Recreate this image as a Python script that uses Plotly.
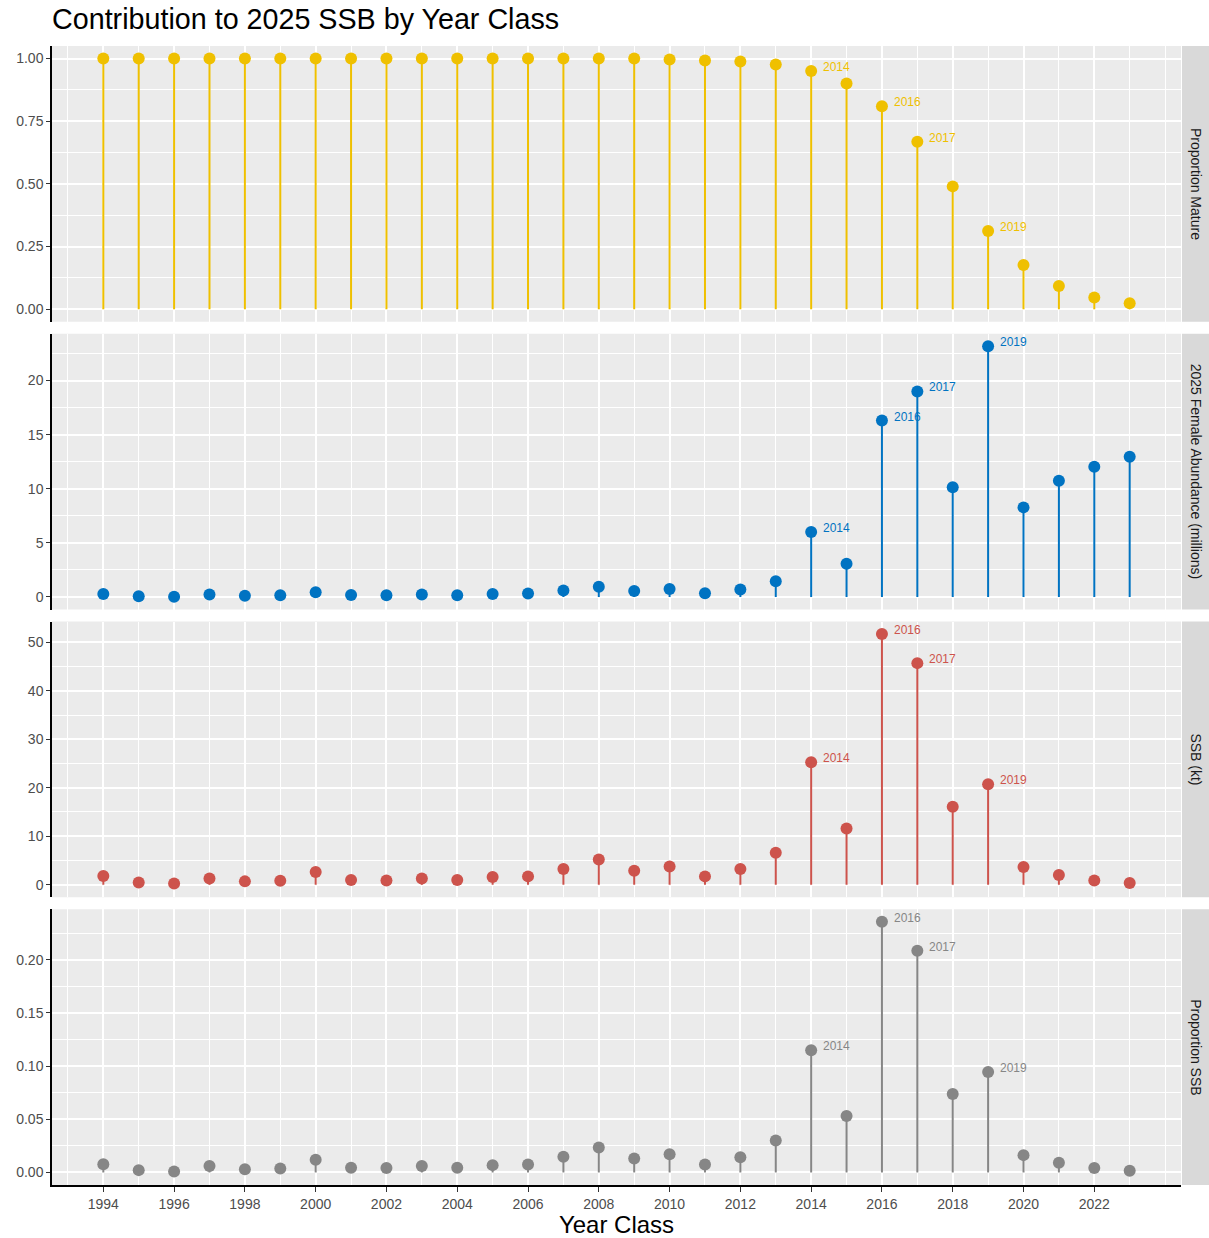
import plotly.graph_objects as go
from plotly.subplots import make_subplots

# ---------------- data ----------------
years = list(range(1994, 2024))

prop_mature = [1.0, 1.0, 1.0, 1.0, 1.0, 1.0, 1.0, 1.0, 1.0, 1.0,
               1.0, 1.0, 1.0, 1.0, 1.0, 1.0, 0.996, 0.992, 0.988, 0.976,
               0.95, 0.90, 0.81, 0.668, 0.49, 0.312, 0.176, 0.093, 0.047, 0.024]

female_abund = [0.28, 0.06, 0.03, 0.22, 0.12, 0.15, 0.43, 0.19, 0.15, 0.22,
                0.15, 0.28, 0.31, 0.59, 0.95, 0.55, 0.74, 0.34, 0.68, 1.45,
                6.0, 3.08, 16.3, 19.0, 10.15, 23.17, 8.28, 10.74, 12.03, 12.95]

ssb = [1.79, 0.48, 0.27, 1.3, 0.69, 0.82, 2.61, 0.96, 0.89, 1.3,
       0.96, 1.58, 1.72, 3.23, 5.22, 2.88, 3.78, 1.72, 3.23, 6.59,
       25.27, 11.6, 51.7, 45.7, 16.1, 20.7, 3.64, 1.99, 0.89, 0.34]

prop_ssb = [0.0078, 0.0022, 0.0009, 0.006, 0.0031, 0.0038, 0.0119, 0.0044, 0.0041, 0.006,
            0.0044, 0.0069, 0.0075, 0.0147, 0.0235, 0.0132, 0.0172, 0.0075, 0.0144, 0.0301,
            0.115, 0.053, 0.2357, 0.2085, 0.0737, 0.0944, 0.0163, 0.0091, 0.0041, 0.0016]

label_years = [2014, 2016, 2017, 2019]
panel_titles = ["Proportion Mature", "2025 Female Abundance (millions)", "SSB (kt)", "Proportion SSB"]
panel_colors = ["#EFC000", "#0073C2", "#CD534C", "#868686"]
y_ticks = [[0, 0.25, 0.5, 0.75, 1.0], [0, 5, 10, 15, 20], [0, 10, 20, 30, 40, 50], [0, 0.05, 0.1, 0.15, 0.2]]
y_minor = [0.125, 2.5, 5, 0.025]
y_fmt = [".2f", "d", "d", ".2f"]
x_ticks = list(range(1994, 2024, 2))

series = [prop_mature, female_abund, ssb, prop_ssb]

# ---------------- figure ----------------
W, H = 1209, 1238
ML, MR, MT, MB = 52, 28, 46, 53
gap_px = 12
plot_h = H - MT - MB
vspace = gap_px / plot_h

fig = make_subplots(rows=4, cols=1, shared_xaxes=True, vertical_spacing=vspace)

FONT = "Liberation Sans, Arial, sans-serif"

for i, vals in enumerate(series):
    r = i + 1
    col = panel_colors[i]
    sx, sy = [], []
    for x, v in zip(years, vals):
        sx += [x, x, None]
        sy += [0, v, None]
    fig.add_trace(go.Scatter(x=sx, y=sy, mode="lines", line=dict(color=col, width=2),
                             hoverinfo="skip", showlegend=False), row=r, col=1)
    fig.add_trace(go.Scatter(x=years, y=vals, mode="markers",
                             marker=dict(color=col, size=12),
                             showlegend=False), row=r, col=1)
    for ly in label_years:
        v = vals[years.index(ly)]
        fig.add_annotation(x=ly, y=v, xref=f"x{'' if r == 1 else r}", yref=f"y{'' if r == 1 else r}",
                           text=str(ly), showarrow=False, xanchor="left", yanchor="middle",
                           xshift=10, yshift=4, font=dict(family=FONT, size=12, color=col))

    vmax = max(vals)
    pad = 0.05 * vmax
    fig.update_yaxes(row=r, col=1, range=[-pad, vmax + pad], automargin=False,
                     tickvals=y_ticks[i], tickformat=y_fmt[i],
                     showgrid=True, gridcolor="white", gridwidth=1.5,
                     minor=dict(dtick=y_minor[i], tick0=0, showgrid=True, gridcolor="white", gridwidth=0.7),
                     zeroline=False, showline=True, linecolor="black", linewidth=1.5,
                     ticks="outside", ticklen=4, tickwidth=1.2, tickcolor="#333333",
                     tickfont=dict(family=FONT, size=14, color="#4D4D4D"))
    fig.update_xaxes(row=r, col=1, range=[1994 - 0.05 * 29, 2023 + 0.05 * 29], automargin=False,
                     tickvals=x_ticks,
                     showgrid=True, gridcolor="white", gridwidth=1.5,
                     minor=dict(dtick=1, tick0=1993, showgrid=True, gridcolor="white", gridwidth=0.7),
                     zeroline=False,
                     showline=(r == 4), linecolor="black", linewidth=1.5,
                     ticks="outside" if r == 4 else "", ticklen=5, tickwidth=1.2, tickcolor="#333333",
                     tickfont=dict(family=FONT, size=14, color="#4D4D4D"))

    # strip
    dom = fig.layout[f"yaxis{'' if r == 1 else r}"].domain
    plot_w = W - ML - MR
    fig.add_shape(type="rect", xref="paper", yref="paper",
                  x0=1 + 1 / plot_w, x1=1 + (MR + 1) / plot_w, y0=dom[0], y1=dom[1],
                  fillcolor="#D9D9D9", line=dict(width=0), layer="below")
    fig.add_annotation(xref="paper", yref="paper", x=1 + (MR / 2 + 1) / plot_w, y=(dom[0] + dom[1]) / 2,
                       text=panel_titles[i], textangle=90, showarrow=False,
                       xanchor="center", yanchor="middle",
                       font=dict(family=FONT, size=14, color="#1A1A1A"))

fig.update_xaxes(row=4, col=1, title=dict(text="Year Class", font=dict(family=FONT, size=24, color="black"), standoff=8))

fig.update_layout(
    width=W, height=H,
    margin=dict(l=ML, r=MR, t=MT, b=MB),
    paper_bgcolor="white", plot_bgcolor="#EBEBEB",
    title=dict(text="Contribution to 2025 SSB by Year Class", x=0, xref="paper", xanchor="left",
               y=1 - 19 / H, yref="container", yanchor="middle",
               font=dict(family=FONT, size=28.7, color="black")),
    font=dict(family=FONT),
    showlegend=False,
)

fig.write_html("out.html", config={"displayModeBar": False},
               post_script="document.body.style.margin='0';document.body.style.overflow='hidden';")
